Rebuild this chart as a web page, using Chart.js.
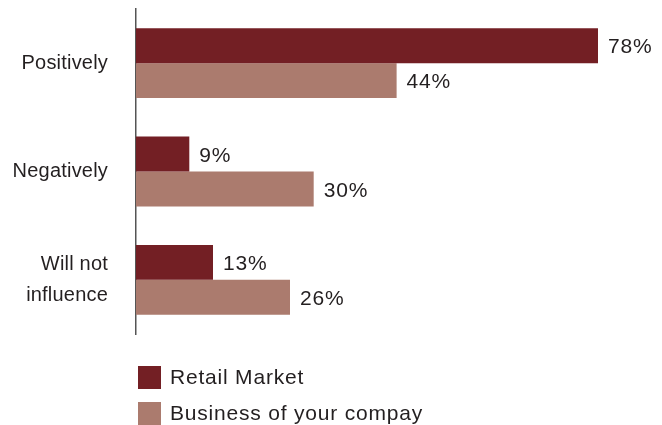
<!DOCTYPE html>
<html>
<head>
<meta charset="utf-8">
<script src="https://cdn.jsdelivr.net/npm/chart.js@4/dist/chart.umd.min.js"></script>
<style>
  html, body { margin: 0; padding: 0; background: #ffffff; }
  #wrap { width: 662px; height: 425px; position: relative; }
</style>
</head>
<body>
<div id="wrap"><canvas id="chart" width="662" height="425"></canvas></div>
<script>
// Survey answers and shares (percent)
const categories = ['Positively', 'Negatively', ['Will not', 'influence']];
const seriesNames = ['Retail Market', 'Business of your compay'];
const retailMarket = [78, 9, 13];
const businessOfCompany = [44, 30, 26];

const colors = ['#731f24', '#ab7b6e'];
const textColor = '#231f20';
const fontFamily = '"Liberation Sans", Arial, Helvetica, sans-serif';

// Slight tracking for the category labels
const tracking = {
  id: 'tracking',
  beforeDraw(chart) { chart.ctx.letterSpacing = '0.2px'; }
};

// Percentage labels to the right of each bar
const valueLabels = {
  id: 'valueLabels',
  afterDatasetsDraw(chart) {
    const ctx = chart.ctx;
    ctx.save();
    ctx.letterSpacing = '0.8px';
    ctx.font = '21px ' + fontFamily;
    ctx.fillStyle = textColor;
    ctx.textAlign = 'left';
    ctx.textBaseline = 'middle';
    chart.data.datasets.forEach((ds, i) => {
      chart.getDatasetMeta(i).data.forEach((bar, j) => {
        ctx.fillText(ds.data[j] + '%', bar.x + 10, bar.y + 2);
      });
    });
    ctx.restore();
  }
};

// Stacked legend below the plot
const stackedLegend = {
  id: 'stackedLegend',
  afterDraw(chart) {
    const ctx = chart.ctx;
    const left = chart.chartArea.left + 2;
    ctx.save();
    ctx.letterSpacing = '0.8px';
    ctx.font = '21px ' + fontFamily;
    ctx.textAlign = 'left';
    ctx.textBaseline = 'middle';
    chart.data.datasets.forEach((ds, i) => {
      const top = 366 + i * 36;
      ctx.fillStyle = ds.backgroundColor;
      ctx.fillRect(left, top, 23, 23);
      ctx.fillStyle = textColor;
      ctx.fillText(ds.label, left + 32, top + 12);
    });
    ctx.restore();
  }
};

new Chart(document.getElementById('chart'), {
  type: 'bar',
  data: {
    labels: categories,
    datasets: [
      { label: seriesNames[0], data: retailMarket, backgroundColor: colors[0] },
      { label: seriesNames[1], data: businessOfCompany, backgroundColor: colors[1] }
    ]
  },
  options: {
    indexAxis: 'y',
    responsive: false,
    animation: false,
    layout: { padding: { top: 9, right: 64, bottom: 91, left: 0 } },
    datasets: { bar: { categoryPercentage: 0.645, barPercentage: 1.0 } },
    scales: {
      x: { display: false, min: 0, max: 78 },
      y: {
        afterFit(scale) {
          scale.width = 136;
          scale.paddingTop = 0;
          scale.paddingBottom = 0;
        },
        grid: { display: false, drawTicks: false },
        border: { display: true, color: '#555555', width: 1.5 },
        ticks: {
          color: textColor,
          padding: 28,
          font: { family: fontFamily, size: 20, lineHeight: 1.55 }
        }
      }
    },
    plugins: {
      legend: { display: false },
      tooltip: { enabled: false }
    }
  },
  plugins: [tracking, valueLabels, stackedLegend]
});
</script>
</body>
</html>
